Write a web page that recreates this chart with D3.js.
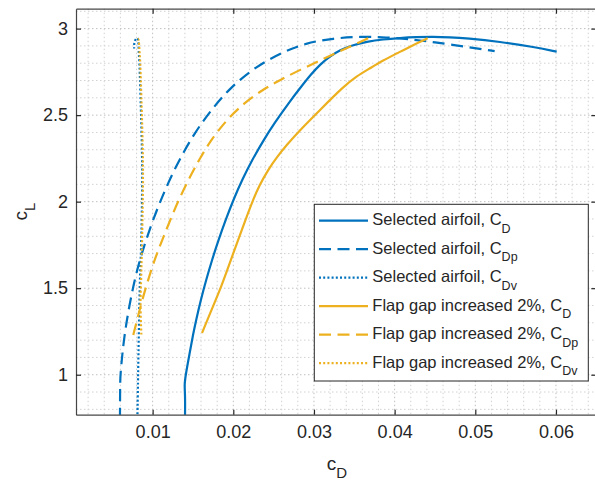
<!DOCTYPE html>
<html>
<head>
<meta charset="utf-8">
<script src="https://cdn.jsdelivr.net/npm/d3@7"></script>
<style>
  html, body { margin: 0; padding: 0; background: #fff; }
  svg { display: block; font-family: "Liberation Sans", Arial, Helvetica, sans-serif; }
</style>
</head>
<body>
<svg id="chart" width="595" height="480"></svg>
<script>
// Drag polar: lift coefficient vs. drag coefficient and its components
const selCD  = [[0.01401,0.738],[0.01404,0.883],[0.01393,0.941],[0.01410,1.000],[0.01457,1.120],[0.01504,1.239],[0.01539,1.316],[0.01597,1.432],[0.01663,1.547],[0.01736,1.663],[0.01817,1.779],[0.01905,1.894],[0.02000,2.010],[0.02108,2.125],[0.02233,2.241],[0.02376,2.356],[0.02508,2.453],[0.02713,2.587],[0.02848,2.668],[0.02957,2.732],[0.03075,2.793],[0.03199,2.839],[0.03323,2.876],[0.03472,2.904],[0.03654,2.924],[0.03856,2.938],[0.04067,2.946],[0.04265,2.951],[0.04476,2.953],[0.04687,2.950],[0.04894,2.944],[0.05306,2.924],[0.05715,2.895],[0.06009,2.867]];
const selCDp = [[0.00595,0.74],[0.00597,0.95],[0.0060,1.0],[0.0064,1.2],[0.0071,1.4],[0.0080,1.6],[0.0093,1.8],[0.0109,2.0],[0.0128,2.2],[0.0152,2.4],[0.0176,2.55],[0.0196,2.656],[0.0225,2.771],[0.0258,2.858],[0.0290,2.917],[0.0324,2.944],[0.0357,2.954],[0.0390,2.950],[0.0420,2.938],[0.0448,2.922],[0.0489,2.895],[0.0524,2.870]];
const selCDv = [[0.0081,0.70],[0.0082,1.00],[0.0084,1.50],[0.0086,1.80],[0.0087,2.20],[0.0085,2.60],[0.0083,2.85],[0.0081,2.945],[0.0078,2.93],[0.0077,2.885]];
const gapCD  = [[0.01612,1.241],[0.01724,1.368],[0.01835,1.490],[0.01916,1.594],[0.02000,1.702],[0.02120,1.856],[0.02244,2.010],[0.02325,2.096],[0.02430,2.183],[0.02542,2.258],[0.02660,2.327],[0.02827,2.414],[0.03075,2.530],[0.03364,2.664],[0.03521,2.723],[0.03695,2.771],[0.03856,2.816],[0.04029,2.857],[0.04215,2.902],[0.04410,2.944]];
const gapCDp = [[0.00760,1.230],[0.00819,1.339],[0.00881,1.449],[0.00955,1.565],[0.01036,1.680],[0.01129,1.790],[0.01228,1.906],[0.01339,2.027],[0.01463,2.143],[0.01587,2.252],[0.01724,2.356],[0.01915,2.472],[0.02134,2.570],[0.02360,2.645],[0.02577,2.703],[0.02838,2.764],[0.03091,2.819],[0.03344,2.874],[0.03610,2.931],[0.03685,2.947]];
const gapCDv = [[0.0086,1.232],[0.0085,1.40],[0.0086,1.60],[0.0087,1.80],[0.0088,2.20],[0.0086,2.60],[0.0084,2.85],[0.0082,2.94],[0.0081,2.935]];

const xTicks = [0.01, 0.02, 0.03, 0.04, 0.05, 0.06];
const yTicks = [1, 1.5, 2, 2.5, 3];
const xTickLabels = ["0.01", "0.02", "0.03", "0.04", "0.05", "0.06"];
const yTickLabels = ["1", "1.5", "2", "2.5", "3"];

const seriesNames = ["Selected airfoil, C", "Selected airfoil, C", "Selected airfoil, C",
                     "Flap gap increased 2%, C", "Flap gap increased 2%, C", "Flap gap increased 2%, C"];
const seriesSubs = ["D", "Dp", "Dv", "D", "Dp", "Dv"];

const BLUE = "#0072BD", GOLD = "#EDB120";
const series = [
  { data: selCD,  color: BLUE, dash: null,      smooth: true },
  { data: selCDp, color: BLUE, dash: "12,6.5",  smooth: true },
  { data: selCDv, color: BLUE, dash: "2,2.2",   smooth: false },
  { data: gapCD,  color: GOLD, dash: null,      smooth: true },
  { data: gapCDp, color: GOLD, dash: "12,6.5",  smooth: true },
  { data: gapCDv, color: GOLD, dash: "2,2.2",   smooth: false }
];

const L = 76, R = 596.3, T = 8.7, B = 414.7;
const x = d3.scaleLinear().domain([0.0005, 0.065]).range([L, R]);
const y = d3.scaleLinear().domain([0.769, 3.115]).range([B, T]);

const svg = d3.select("#chart");
const AX = "#262626";

svg.append("defs").append("clipPath").attr("id", "plotclip")
  .append("rect").attr("x", L).attr("y", T).attr("width", R - L).attr("height", B - T);

// grid: minor then major, dotted
const grid = svg.append("g").attr("fill", "none").attr("stroke-dasharray", "1.5,2.5");
const xMinor = d3.range(0.002, 0.065, 0.002).filter(v => Math.abs(v * 100 - Math.round(v * 100)) > 1e-6);
const yMinor = d3.range(0.8, 3.11, 0.1).filter(v => Math.abs(v * 2 - Math.round(v * 2)) > 1e-6);
grid.selectAll(".xm").data(xMinor).join("line")
  .attr("x1", d => x(d)).attr("x2", d => x(d)).attr("y1", T).attr("y2", B)
  .attr("stroke", "#d2d2d2").attr("stroke-width", 1);
grid.selectAll(".ym").data(yMinor).join("line")
  .attr("y1", d => y(d)).attr("y2", d => y(d)).attr("x1", L).attr("x2", R)
  .attr("stroke", "#d2d2d2").attr("stroke-width", 1);
grid.selectAll(".xM").data(xTicks).join("line")
  .attr("x1", d => x(d)).attr("x2", d => x(d)).attr("y1", T).attr("y2", B)
  .attr("stroke", "#c0c0c0").attr("stroke-width", 1);
grid.selectAll(".yM").data(yTicks).join("line")
  .attr("y1", d => y(d)).attr("y2", d => y(d)).attr("x1", L).attr("x2", R)
  .attr("stroke", "#c0c0c0").attr("stroke-width", 1);

// curves
const smoothLine = d3.line().x(d => x(d[0])).y(d => y(d[1])).curve(d3.curveBasis);
const tightLine = d3.line().x(d => x(d[0])).y(d => y(d[1])).curve(d3.curveCatmullRom.alpha(0.5));
const plot = svg.append("g").attr("clip-path", "url(#plotclip)");
series.forEach(s => {
  plot.append("path").datum(s.data)
    .attr("d", s.smooth ? smoothLine : tightLine)
    .attr("fill", "none")
    .attr("stroke", s.color)
    .attr("stroke-width", 2.2)
    .attr("stroke-linejoin", "round")
    .attr("stroke-dasharray", s.dash);
});

// axes (box with inward ticks)
const fmtX = (d, i) => xTickLabels[i];
const fmtY = (d, i) => yTickLabels[i];
const xAxisB = svg.append("g").attr("transform", `translate(0,${B})`)
  .call(d3.axisBottom(x).tickValues(xTicks).tickFormat(fmtX).tickSizeInner(-5).tickSizeOuter(0).tickPadding(20));
const xAxisT = svg.append("g").attr("transform", `translate(0,${T})`)
  .call(d3.axisTop(x).tickValues(xTicks).tickFormat("").tickSizeInner(-5).tickSizeOuter(0));
const yAxisL = svg.append("g").attr("transform", `translate(${L},0)`)
  .call(d3.axisLeft(y).tickValues(yTicks).tickFormat(fmtY).tickSizeInner(-5).tickSizeOuter(0).tickPadding(8));
const yAxisR = svg.append("g").attr("transform", `translate(${R},0)`)
  .call(d3.axisRight(y).tickValues(yTicks).tickFormat("").tickSizeInner(-5).tickSizeOuter(0));
[xAxisB, xAxisT, yAxisL, yAxisR].forEach(g => {
  g.select(".domain").attr("stroke", AX).attr("stroke-width", 1.2).attr("opacity", 0.85);
  g.selectAll(".tick line").attr("stroke", AX).attr("stroke-width", 1.2);
  g.selectAll(".tick text").attr("fill", AX).attr("font-size", 18)
    .attr("font-family", "Liberation Sans, Arial, sans-serif");
});
xAxisB.selectAll(".tick text").attr("dy", "0.2em");

// axis labels
const xl = svg.append("text").attr("x", 337).attr("y", 470).attr("text-anchor", "middle")
  .attr("fill", AX).attr("font-size", 19);
xl.append("tspan").text("c");
xl.append("tspan").attr("dy", 8).attr("font-size", 15).text("D");

const yl = svg.append("text").attr("transform", `translate(27,${(T + B) / 2}) rotate(-90)`)
  .attr("text-anchor", "middle").attr("fill", AX).attr("font-size", 19);
yl.append("tspan").text("c");
yl.append("tspan").attr("dy", 8).attr("font-size", 15).text("L");

// legend
const lg = svg.append("g");
lg.append("rect").attr("x", 314.3).attr("y", 204.3).attr("width", 274).attr("height", 176.7)
  .attr("fill", "#fff").attr("stroke", AX).attr("stroke-width", 1);
const rowY = d3.range(6).map(i => 220.7 + i * 28.5);
series.forEach((s, i) => {
  lg.append("line").attr("x1", 319).attr("x2", 368).attr("y1", rowY[i]).attr("y2", rowY[i])
    .attr("stroke", s.color).attr("stroke-width", 2.2).attr("stroke-dasharray", s.dash);
  const t = lg.append("text").attr("x", 372.3).attr("y", rowY[i] + 4.5)
    .attr("fill", AX).attr("font-size", 16.5);
  t.append("tspan").text(seriesNames[i]);
  t.append("tspan").attr("dy", 7.5).attr("font-size", 12.5).text(seriesSubs[i]);
});
</script>
</body>
</html>
